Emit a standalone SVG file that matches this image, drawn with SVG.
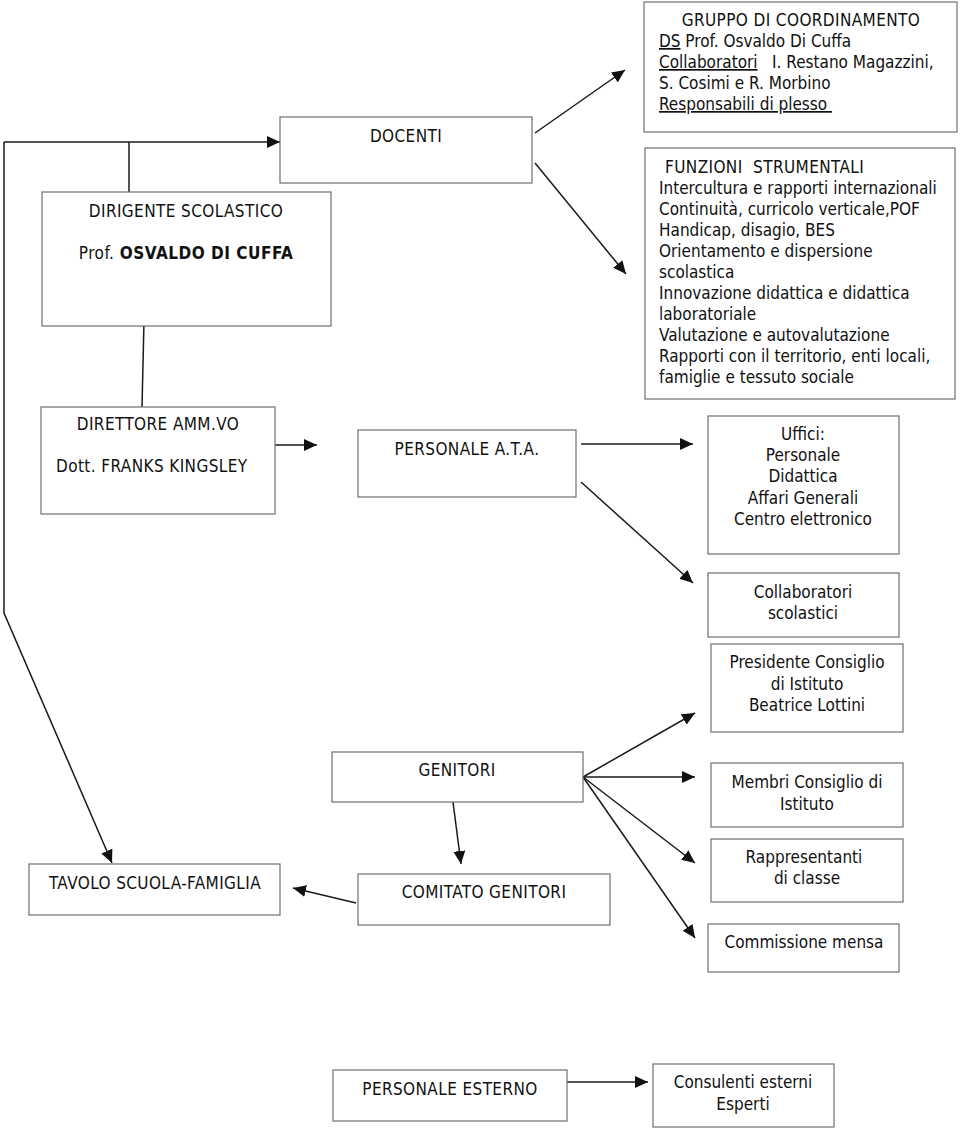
<svg xmlns="http://www.w3.org/2000/svg" width="960" height="1131" viewBox="0 0 960 1131">
<style>
.box{fill:#fff;stroke:#6e6e6e;stroke-width:1.2}
.t{font-family:"DejaVu Sans Condensed","DejaVu Sans",sans-serif;font-stretch:condensed;font-size:17px;fill:#111}
.k{letter-spacing:0.4px}
.m{text-anchor:middle}
.c{fill:none;stroke:#1a1a1a;stroke-width:1.5}
.u{text-decoration:underline}
</style>
<defs>
<marker id="ah" markerUnits="userSpaceOnUse" markerWidth="14" markerHeight="12" refX="13" refY="6" orient="auto">
<path d="M0,0 L13,6 L0,12 z" fill="#111"/>
</marker>
</defs>
<rect width="960" height="1131" fill="#fff"/>

<g id="connectors">
<polyline class="c" points="4,142 4,613 112,863" marker-end="url(#ah)"/>
<line class="c" x1="4" y1="142" x2="280" y2="142" marker-end="url(#ah)"/>
<line class="c" x1="129" y1="142" x2="129" y2="192"/>
<line class="c" x1="144" y1="321" x2="142" y2="407"/>
<line class="c" x1="535" y1="133" x2="625" y2="70" marker-end="url(#ah)"/>
<line class="c" x1="535" y1="163" x2="626" y2="274" marker-end="url(#ah)"/>
<line class="c" x1="275" y1="445" x2="317" y2="445" marker-end="url(#ah)"/>
<line class="c" x1="581" y1="444" x2="693" y2="444" marker-end="url(#ah)"/>
<line class="c" x1="581" y1="482" x2="693" y2="583" marker-end="url(#ah)"/>
<line class="c" x1="583" y1="777" x2="695" y2="713" marker-end="url(#ah)"/>
<line class="c" x1="583" y1="777" x2="695" y2="777" marker-end="url(#ah)"/>
<line class="c" x1="583" y1="777" x2="695" y2="863" marker-end="url(#ah)"/>
<line class="c" x1="583" y1="777" x2="695" y2="938" marker-end="url(#ah)"/>
<line class="c" x1="453" y1="802" x2="461" y2="864" marker-end="url(#ah)"/>
<line class="c" x1="356" y1="903" x2="293" y2="888" marker-end="url(#ah)"/>
<line class="c" x1="567" y1="1082" x2="648" y2="1082" marker-end="url(#ah)"/>
</g>

<g id="gruppo">
<rect class="box" x="644" y="2" width="313" height="130"/>
<text class="t m k" x="801" y="26">GRUPPO DI COORDINAMENTO</text>
<text class="t" x="659" y="47"><tspan class="u">DS</tspan> Prof. Osvaldo Di Cuffa</text>
<text class="t" x="659" y="68" xml:space="preserve"><tspan class="u">Collaboratori</tspan>   I. Restano Magazzini,</text>
<text class="t" x="659" y="89">S. Cosimi e R. Morbino</text>
<text class="t" x="659" y="110" xml:space="preserve"><tspan class="u">Responsabili di plesso </tspan></text>
</g>

<g id="docenti">
<rect class="box" x="280" y="117" width="252" height="66"/>
<text class="t m k" x="406" y="142">DOCENTI</text>
</g>

<g id="funzioni">
<rect class="box" x="645" y="148" width="310" height="251"/>
<text class="t k" x="665" y="173" xml:space="preserve">FUNZIONI  STRUMENTALI</text>
<text class="t" x="659" y="194">Intercultura e rapporti internazionali</text>
<text class="t" x="659" y="215">Continuità, curricolo verticale,POF</text>
<text class="t" x="659" y="236">Handicap, disagio, BES</text>
<text class="t" x="659" y="257">Orientamento e dispersione</text>
<text class="t" x="659" y="278">scolastica</text>
<text class="t" x="659" y="299">Innovazione didattica e didattica</text>
<text class="t" x="659" y="320">laboratoriale</text>
<text class="t" x="659" y="341">Valutazione e autovalutazione</text>
<text class="t" x="659" y="362">Rapporti con il territorio, enti locali,</text>
<text class="t" x="659" y="383">famiglie e tessuto sociale</text>
</g>

<g id="dirigente">
<rect class="box" x="42" y="192" width="289" height="134"/>
<text class="t m k" x="186" y="217">DIRIGENTE SCOLASTICO</text>
<text class="t m" x="186" y="259" letter-spacing="0.5">Prof. <tspan font-weight="bold">OSVALDO DI CUFFA</tspan></text>
</g>

<g id="direttore">
<rect class="box" x="41" y="407" width="234" height="107"/>
<text class="t m k" x="158" y="430">DIRETTORE AMM.VO</text>
<text class="t k" x="56" y="472">Dott. FRANKS KINGSLEY</text>
</g>

<g id="ata">
<rect class="box" x="358" y="430" width="218" height="67"/>
<text class="t m k" x="467" y="455">PERSONALE A.T.A.</text>
</g>

<g id="uffici">
<rect class="box" x="708" y="416" width="191" height="138"/>
<text class="t m" x="803" y="440">Uffici:</text>
<text class="t m" x="803" y="461">Personale</text>
<text class="t m" x="803" y="482">Didattica</text>
<text class="t m" x="803" y="504">Affari Generali</text>
<text class="t m" x="803" y="525">Centro elettronico</text>
</g>

<g id="collaboratori">
<rect class="box" x="708" y="573" width="191" height="64"/>
<text class="t m" x="803" y="598">Collaboratori</text>
<text class="t m" x="803" y="619">scolastici</text>
</g>

<g id="presidente">
<rect class="box" x="711" y="644" width="192" height="88"/>
<text class="t m" x="807" y="668">Presidente Consiglio</text>
<text class="t m" x="807" y="690">di Istituto</text>
<text class="t m" x="807" y="711">Beatrice Lottini</text>
</g>

<g id="genitori">
<rect class="box" x="332" y="752" width="251" height="50"/>
<text class="t m k" x="457" y="776">GENITORI</text>
</g>

<g id="membri">
<rect class="box" x="711" y="763" width="192" height="64"/>
<text class="t m" x="807" y="788">Membri Consiglio di</text>
<text class="t m" x="807" y="810">Istituto</text>
</g>

<g id="rappresentanti">
<rect class="box" x="711" y="839" width="192" height="63"/>
<text class="t m" x="804" y="863">Rappresentanti</text>
<text class="t m" x="807" y="884">di classe</text>
</g>

<g id="tavolo">
<rect class="box" x="29" y="864" width="251" height="51"/>
<text class="t m k" x="155" y="889">TAVOLO SCUOLA-FAMIGLIA</text>
</g>

<g id="comitato">
<rect class="box" x="358" y="874" width="252" height="51"/>
<text class="t m k" x="484" y="898">COMITATO GENITORI</text>
</g>

<g id="commissione">
<rect class="box" x="708" y="924" width="191" height="48"/>
<text class="t m" x="804" y="948">Commissione mensa</text>
</g>

<g id="esterno">
<rect class="box" x="333" y="1070" width="234" height="51"/>
<text class="t m k" x="450" y="1095">PERSONALE ESTERNO</text>
</g>

<g id="consulenti">
<rect class="box" x="653" y="1064" width="181" height="63"/>
<text class="t m" x="743" y="1088">Consulenti esterni</text>
<text class="t m" x="743" y="1110">Esperti</text>
</g>
</svg>
